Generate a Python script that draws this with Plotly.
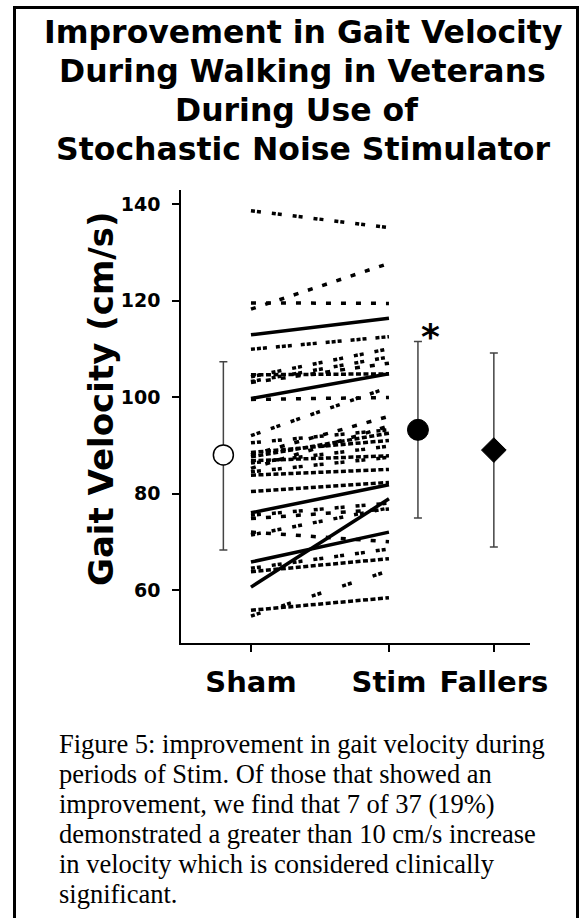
import plotly.graph_objects as go

# ---------------- data ----------------
group_labels = ["Sham", "Stim", "Fallers"]
y_ticks = [60, 80, 100, 120, 140]

# individual subjects: gait velocity (cm/s) during sham and during stim
sham_velocity = [138.6, 118.2, 119.5, 112.9, 109.9, 104.2, 103.2, 104.6, 103.0, 99.7,
                 99.5, 92.0, 90.5, 87.6, 88.5, 86.3, 85.2, 84.5, 83.8, 88.0,
                 80.4, 76.0, 74.8, 75.5, 71.4, 72.0, 65.8, 63.8, 64.5, 60.6,
                 54.6, 55.8, 86.8]
stim_velocity = [135.1, 127.7, 119.4, 116.3, 112.5, 110.0, 108.3, 104.8, 107.0, 104.8,
                 99.9, 102.0, 93.2, 92.5, 91.0, 89.8, 94.0, 87.5, 85.0, 96.0,
                 82.3, 81.8, 76.8, 78.0, 77.0, 70.0, 72.0, 66.5, 68.5, 78.9,
                 64.0, 58.4, 87.8]

# group means and standard deviations
group_means = [88.0, 93.2, 89.0]
group_sd_plus = [19.3, 18.3, 20.1]
group_sd_minus = [19.7, 18.3, 20.1]

# ---------------- styles ----------------
line_kind = ["pairs", "sparse", "sparse", "solid", "triple", "pairs", "pairs", "dense", "sparse", "solid",
             "sparse", "pairs", "pairs", "dense", "dense", "pairs", "sparse", "pairs", "dense", "sparse",
             "dense", "solid", "sparse", "pairs", "pairs", "sparse", "solid", "dense", "pairs", "solid",
             "widepairs", "dense", "dense"]
dash_map = {
    "solid": "solid",
    "dense": "5px,2.5px",
    "pairs": "4px,2px,4px,11px",
    "triple": "4px,2px,4px,2px,4px,9px",
    "sparse": "5px,10px",
    "widepairs": "4px,2px,4px,22px",
}

W, H = 581, 918
SANS = "DejaVu Sans"
SERIF = "Liberation Serif, Times New Roman, serif"

x_pos = {"Sham": 0.0, "Stim": 1.0, "Fallers": 1.76}
mean_x = [-0.2, 1.21, 1.76]

fig = go.Figure()

for s, t, k in zip(sham_velocity, stim_velocity, line_kind):
    fig.add_trace(go.Scatter(
        x=[x_pos["Sham"], x_pos["Stim"]], y=[s, t], mode="lines",
        line=dict(color="black", width=3.5, dash=dash_map[k]),
        hoverinfo="skip", showlegend=False))

marker_styles = [
    dict(symbol="circle", size=20, color="white", line=dict(color="black", width=1.5)),
    dict(symbol="circle", size=21, color="black", line=dict(color="black", width=1)),
    dict(symbol="diamond", size=19, color="black", line=dict(color="black", width=1)),
]
for i in range(3):
    fig.add_trace(go.Scatter(
        x=[mean_x[i]], y=[group_means[i]], mode="markers",
        marker=marker_styles[i],
        error_y=dict(type="data", symmetric=False, array=[group_sd_plus[i]],
                     arrayminus=[group_sd_minus[i]], color="#444444", thickness=1.5, width=4),
        showlegend=False, hoverinfo="skip"))

# significance marker above the Stim mean
fig.add_annotation(x=1.30, y=group_means[1] + group_sd_plus[1] + 1.0, text="<b>*</b>",
                   showarrow=False, font=dict(family=SANS, size=36, color="black"),
                   xanchor="center", yanchor="middle")

fig.update_xaxes(
    domain=[181 / W, 530 / W], range=[-0.507, 2.022],
    tickvals=[x_pos[g] for g in group_labels], ticktext=group_labels,
    tickfont=dict(family=SANS, size=29, color="black", weight="bold"),
    showline=True, linecolor="black", linewidth=1.5,
    ticks="outside", ticklen=7, tickwidth=1.5, tickcolor="black",
    ticklabelstandoff=5, showgrid=False, zeroline=False, automargin=False)
fig.update_yaxes(
    domain=[1 - 643 / H, 1 - 190 / H], range=[49.02, 142.9],
    tickvals=y_ticks, ticktext=[str(v) for v in y_ticks],
    tickfont=dict(family=SANS, size=19, color="black", weight="bold"),
    showline=True, linecolor="black", linewidth=1.5,
    ticks="outside", ticklen=7, tickwidth=1.5, tickcolor="black",
    ticklabelstandoff=8, showgrid=False, zeroline=False, automargin=False)

# y-axis title
fig.add_annotation(xref="paper", yref="paper", x=101 / W, y=1 - 399 / H,
                   text="<b>Gait Velocity (cm/s)</b>", textangle=-90, showarrow=False,
                   font=dict(family=SANS, size=34, color="black"),
                   xanchor="center", yanchor="middle")

# title lines
title_lines = ["Improvement in Gait Velocity", "During Walking in Veterans",
               "During Use of", "Stochastic Noise Stimulator"]
title_y = [32, 71, 110, 149]
title_x = [303, 303, 296, 303]
for txt, yc, xc in zip(title_lines, title_y, title_x):
    fig.add_annotation(xref="paper", yref="paper", x=xc / W, y=1 - yc / H,
                       text=f"<b>{txt}</b>", showarrow=False,
                       font=dict(family=SANS, size=31.5, color="black"),
                       xanchor="center", yanchor="middle")

# caption lines
caption_lines = ["Figure 5: improvement in gait velocity during",
                 "periods of Stim. Of those that showed an",
                 "improvement, we find that 7 of 37 (19%)",
                 "demonstrated a greater than 10 cm/s increase",
                 "in velocity which is considered clinically",
                 "significant."]
for i, txt in enumerate(caption_lines):
    fig.add_annotation(xref="paper", yref="paper", x=57 / W, y=1 - (744 + 30 * i) / H,
                       text=txt, showarrow=False,
                       font=dict(family=SERIF, size=26.5, color="black"),
                       xanchor="left", yanchor="middle")

# frame around the figure
fig.add_shape(type="rect", xref="paper", yref="paper",
              x0=14.5 / W, x1=577.5 / W, y0=-0.02, y1=1 - 7.5 / H,
              line=dict(color="black", width=3), fillcolor="rgba(0,0,0,0)", layer="above")

fig.update_layout(width=W, height=H, margin=dict(l=0, r=0, t=0, b=0, autoexpand=False),
                  autosize=False,
                  paper_bgcolor="white", plot_bgcolor="white", showlegend=False)

fig.write_html("out.html",
               config={"responsive": False, "displayModeBar": False},
               post_script="document.body.style.margin='0';document.body.style.overflow='hidden';")
